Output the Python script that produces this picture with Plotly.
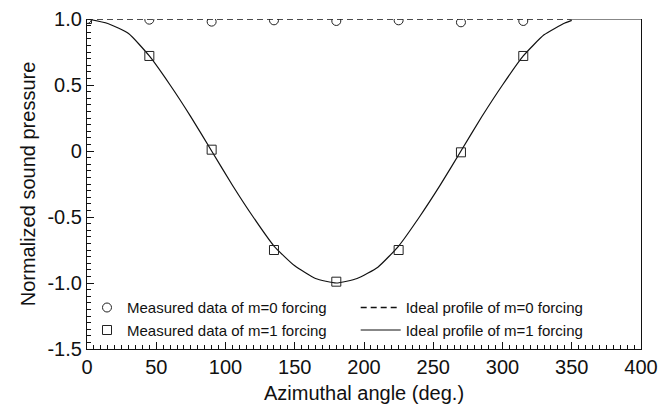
import plotly.graph_objects as go

# Measured data
meas_angle = [0, 45, 90, 135, 180, 225, 270, 315]
meas_m0 = [1.0, 0.995, 0.98, 0.99, 0.985, 0.99, 0.975, 0.985]
meas_m1 = [1.0, 0.72, 0.01, -0.75, -0.99, -0.75, -0.01, 0.72]

# Ideal profiles
ideal_m0_angle = [0, 350]
ideal_m0 = [1.0, 1.0]
ideal_m1_angle = [0, 15, 30, 45, 60, 75, 90, 105, 120, 135, 150, 165, 180,
                  195, 210, 225, 240, 255, 270, 285, 300, 315, 330, 345, 350]
ideal_m1 = [1.0, 0.966, 0.89, 0.72, 0.5, 0.259, 0.0, -0.259, -0.5, -0.72, -0.87, -0.966, -1.0,
            -0.966, -0.88, -0.72, -0.5, -0.259, 0.0, 0.259, 0.5, 0.72, 0.88, 0.97, 0.99]

x_ticks = [0, 50, 100, 150, 200, 250, 300, 350, 400]
y_ticks = [1.0, 0.5, 0, -0.5, -1.0, -1.5]
y_ticktext = ["1.0", "0.5", "0", "-0.5", "-1.0", "-1.5"]

FONT = "Liberation Sans, Arial, Helvetica, sans-serif"
INK = "#111111"

fig = go.Figure()
fig.add_trace(go.Scatter(x=ideal_m0_angle, y=ideal_m0, mode="lines",
                         line=dict(color="#111111", width=1.4, dash="6px,4px"),
                         name="Ideal profile of m=0 forcing", legend="legend2"))
fig.add_trace(go.Scatter(x=ideal_m1_angle, y=ideal_m1, mode="lines", line_shape="spline",
                         line=dict(color=INK, width=1.2, smoothing=0.5),
                         name="Ideal profile of m=1 forcing", legend="legend2"))
fig.add_trace(go.Scatter(x=meas_angle, y=meas_m0, mode="markers",
                         marker=dict(symbol="circle-open", size=9, color="#222222", line=dict(width=1)),
                         name="Measured data of m=0 forcing", legend="legend"))
fig.add_trace(go.Scatter(x=meas_angle, y=meas_m1, mode="markers",
                         marker=dict(symbol="square-open", size=9, color="#222222", line=dict(width=1)),
                         name="Measured data of m=1 forcing", legend="legend"))

# partial top border visible to the right of the dashed line
fig.add_shape(type="line", xref="x", yref="y", x0=350, x1=400, y0=1.0, y1=1.0,
              line=dict(color=INK, width=1.2))

fig.update_layout(
    width=658, height=407,
    margin=dict(l=87, r=17, t=19, b=58, autoexpand=False),
    paper_bgcolor="white", plot_bgcolor="white",
    font=dict(family=FONT, color=INK, size=15),
    showlegend=True,
    legend=dict(x=0.0, y=0.175, xanchor="left", yanchor="top",
                bgcolor="rgba(0,0,0,0)", font=dict(size=15, family=FONT),
                itemwidth=30, tracegroupgap=0),
    legend2=dict(x=0.485, y=0.175, xanchor="left", yanchor="top",
                 bgcolor="rgba(0,0,0,0)", font=dict(size=15, family=FONT),
                 itemwidth=40, tracegroupgap=0),
    xaxis=dict(range=[0, 400], tickvals=x_ticks, showgrid=False, zeroline=False, automargin=False,
               showline=True, linecolor=INK, linewidth=1.2,
               ticks="inside", ticklen=7, tickcolor=INK, tickwidth=1,
               minor=dict(dtick=5, ticks="inside", ticklen=4, tickcolor=INK, tickwidth=1, showgrid=False),
               tickfont=dict(size=20, family=FONT),
               title=dict(text="Azimuthal angle (deg.)", font=dict(size=20, family=FONT), standoff=8)),
    yaxis=dict(range=[-1.5, 1.0], tickvals=y_ticks, ticktext=y_ticktext, showgrid=False, zeroline=False,
               automargin=False,
               showline=True, linecolor=INK, linewidth=1.2, mirror=True,
               ticks="inside", ticklen=7, tickcolor=INK, tickwidth=1,
               minor=dict(dtick=0.05, ticks="inside", ticklen=4, tickcolor=INK, tickwidth=1, showgrid=False),
               tickfont=dict(size=20, family=FONT),
               title=dict(text="Normalized sound pressure", font=dict(size=20, family=FONT), standoff=6)),
)

fig.write_html("out.html")
